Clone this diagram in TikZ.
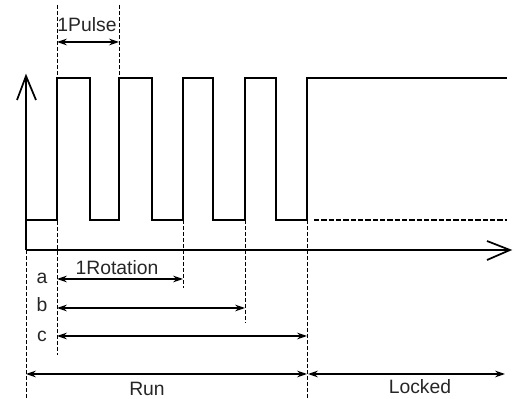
\documentclass[tikz,border=0pt]{standalone}
\usepackage{fontspec}
\setmainfont{Liberation Sans}
\usetikzlibrary{arrows.meta}
\begin{document}
\begin{tikzpicture}[x=0.75pt,y=-0.75pt,
  sig/.style={line width=2.2pt, line join=miter, line cap=butt},
  axisline/.style={line width=1.6pt},
  openhead/.style={line width=1.3pt, line join=miter},
  dim/.style={line width=0.9pt, {Stealth[length=7.5pt,width=5pt]}-{Stealth[length=7.5pt,width=5pt]}},
  guide/.style={line width=0.75pt, dash pattern=on 3pt off 1.5pt},
  lowdash/.style={line width=1pt, dash pattern=on 4pt off 1.5pt},
  lbl/.style={font=\fontsize{14.5}{17}\selectfont, inner sep=0pt, anchor=base, text=black!85}]
\useasboundingbox (0,0) rectangle (515,399);

% named points
\coordinate (O) at (26,250);
\coordinate (ytop) at (26,76);
\coordinate (xend) at (510,250);

% axes
\draw[axisline] (O) -- (ytop);
\draw[openhead] (17,100) -- (ytop) -- (36,100);
\draw[axisline] (O) -- (xend);
\draw[openhead] (487,241) -- (xend) -- (487,260);

% guides
\draw[guide] (57,5) -- (57,355);
\draw[guide] (119,5) -- (119,76);
\draw[guide] (O) -- (26,399);
\draw[guide] (183,220) -- (183,288);
\draw[guide] (245,220) -- (245,323);
\draw[guide] (307,220) -- (307,399);

% signal
\draw[sig] (26,220) -- (57,220) -- (57,78) -- (90,78) -- (90,220) -- (119,220)
  -- (119,78) -- (152,78) -- (152,220) -- (183,220) -- (183,78) -- (213,78)
  -- (213,220) -- (245,220) -- (245,78) -- (276,78) -- (276,220) -- (307,220)
  -- (307,78) -- (507,78);
\draw[lowdash] (314,220) -- (507,220);

% dimension arrows
\coordinate (p1) at (57,42); \coordinate (p2) at (119,42);
\draw[dim] (p1) -- (p2);
\node[lbl] (lpulse) at (87,32) {1Pulse};

\coordinate (a1) at (57,279); \coordinate (a2) at (183,279);
\draw[dim] (a1) -- (a2);
\node[lbl] (lrot) at (117,275) {1Rotation};
\node[lbl] (la) at (42,284) {a};

\coordinate (b1) at (57,308); \coordinate (b2) at (245,308);
\draw[dim] (b1) -- (b2);
\node[lbl] (lb) at (42,312) {b};

\coordinate (c1) at (57,336); \coordinate (c2) at (307,336);
\draw[dim] (c1) -- (c2);
\node[lbl] (lc) at (42,342) {c};

\coordinate (r1) at (26,374); \coordinate (r2) at (307,374);
\draw[dim] (r1) -- (r2);
\node[lbl] (lrun) at (147,396) {Run};

\coordinate (k1) at (308,374); \coordinate (k2) at (505,374);
\draw[dim] (k1) -- (k2);
\node[lbl] (llock) at (420,394) {Locked};
\end{tikzpicture}
\end{document}
